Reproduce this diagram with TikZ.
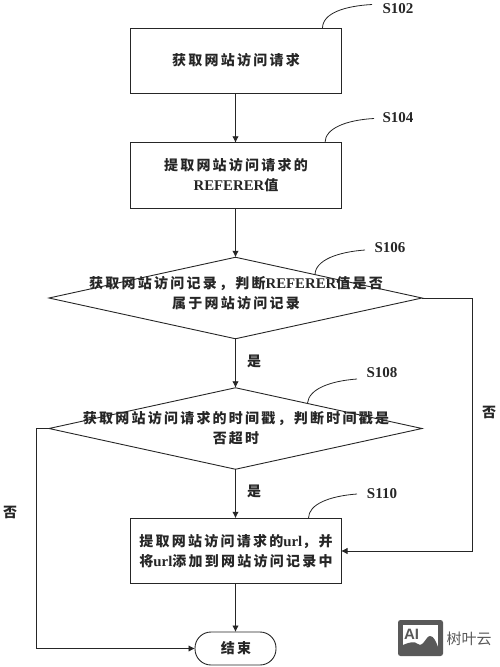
\documentclass[tikz,border=0pt]{standalone}
\usepackage{fontspec}
\usetikzlibrary{shapes.geometric,arrows.meta}
\setmainfont{Liberation Serif}
\newfontfamily\zh{Noto Sans CJK SC}[LetterSpace=16]
\newfontfamily\zhplain{Noto Sans CJK SC}
\newfontfamily\wmfont{Liberation Sans}
\newcommand{\lat}[1]{{\rmfamily\bfseries\fontsize{14.8}{20}\selectfont #1}}
\definecolor{ink}{HTML}{262626}
\definecolor{wm}{HTML}{595959}
\tikzset{
  x=1pt,y=-1pt,
  boxnode/.style={draw=ink,line width=0.9pt,rectangle,minimum width=211,minimum height=65.5,inner sep=0,outer sep=0},
  decnode/.style={draw=ink,line width=0.9pt,diamond,minimum width=373,minimum height=81.5,inner sep=0,outer sep=0},
  endnode/.style={draw=ink,line width=0.9pt,rectangle,rounded corners=16pt,minimum width=81,minimum height=33,inner sep=0,outer sep=0},
  txt/.style={align=center,inner sep=0,text=ink,font=\zh\bfseries\fontsize{14}{20.5}\selectfont},
  steplabel/.style={inner sep=0,text=ink,font=\rmfamily\bfseries\fontsize{15}{16}\selectfont},
  flow/.style={draw=ink,line width=0.9pt,-{Latex[length=6.5pt,width=6.5pt]}},
  leader/.style={draw=ink,line width=0.8pt},
}
\begin{document}
\begin{tikzpicture}
\useasboundingbox (0,0) rectangle (500,667);
% boxes
\node[boxnode] (b1) at (235.5,61) {};
\node[boxnode] (b2) at (235.5,175.5) {};
\node[decnode] (d1) at (235.5,298) {};
\node[decnode] (d2) at (235.5,428.5) {};
\node[boxnode] (b3) at (235.5,551) {};
\node[endnode] (e) at (235.5,648.5) {};
% texts
\node[txt] (t1) at (236,60) {获取网站访问请求};
\node[txt] (t2) at (236,175) {提取网站访问请求的\\\lat{REFERER}值};
\node[txt] (t3) at (236,293) {获取网站访问记录，判断\lat{REFERER}值是否\\属于网站访问记录};
\node[txt] (t4) at (236,428) {获取网站访问请求的时间戳，判断时间戳是\\否超时};
\node[txt] (t5) at (236,551) {提取网站访问请求的\lat{url}，并\\将\lat{url}添加到网站访问记录中};
\node[txt] (t6) at (236,648) {结束};
\node[txt] (y1) at (254,361) {是};
\node[txt] (y2) at (254,491) {是};
\node[txt] (n1) at (489,412) {否};
\node[txt] (n2) at (10,512) {否};
% step labels
\node[steplabel] (s102) at (398,9) {S102};
\node[steplabel] (s104) at (398,118) {S104};
\node[steplabel] (s106) at (390,248) {S106};
\node[steplabel] (s108) at (382,373) {S108};
\node[steplabel] (s110) at (382,494) {S110};
% leaders
\coordinate (l1a) at (322.5,28.2); \coordinate (l1b) at (372,4.5);
\coordinate (l2a) at (325,142.7);  \coordinate (l2b) at (374,118.5);
\coordinate (l3a) at (315,275);    \coordinate (l3b) at (365,250);
\coordinate (l4a) at (307.5,403);  \coordinate (l4b) at (357,379);
\coordinate (l5a) at (308.5,518.2);\coordinate (l5b) at (357,494);
\draw[leader] (l1a) .. controls (322.5,13) and (345,6) .. (l1b);
\draw[leader] (l2a) .. controls (325,128) and (347,120) .. (l2b);
\draw[leader] (l3a) .. controls (315,260) and (338,252) .. (l3b);
\draw[leader] (l4a) .. controls (309,389) and (330,381) .. (l4b);
\draw[leader] (l5a) .. controls (308.5,504) and (330,496) .. (l5b);
% connectors
\draw[flow] (b1.south) -- (b2.north);
\draw[flow] (b2.south) -- (d1.north);
\draw[flow] (d1.south) -- (d2.north);
\draw[flow] (d2.south) -- (b3.north);
\draw[flow] (b3.south) -- (e.north);
\coordinate (rc) at (472,551);
\coordinate (lc) at (36,428.5);
\draw[flow] (d1.east) -| (rc) -- (b3.east);
\draw[flow] (d2.west) -- (lc) |- (e.west);
% watermark
\fill[wm,rounded corners=2.5pt] (398,620) rectangle (443,656);
\fill[white] (403,625) rectangle (438,651);
\fill[wm] (403,652) -- (403,645) .. controls (410,642) and (414,641) .. (418,644)
   .. controls (423,648) and (426,636) .. (430,636) .. controls (434,636) and (436,642) .. (438,647) -- (438,652) -- cycle;
\node[inner sep=0,text=wm,font=\wmfont\bfseries\fontsize{15}{15}\selectfont] (wa) at (411.5,634) {AI};
\node[inner sep=0,text=wm,font=\zhplain\fontsize{15}{15}\selectfont] (wt) at (469,638.5) {树叶云};
\end{tikzpicture}
\end{document}
